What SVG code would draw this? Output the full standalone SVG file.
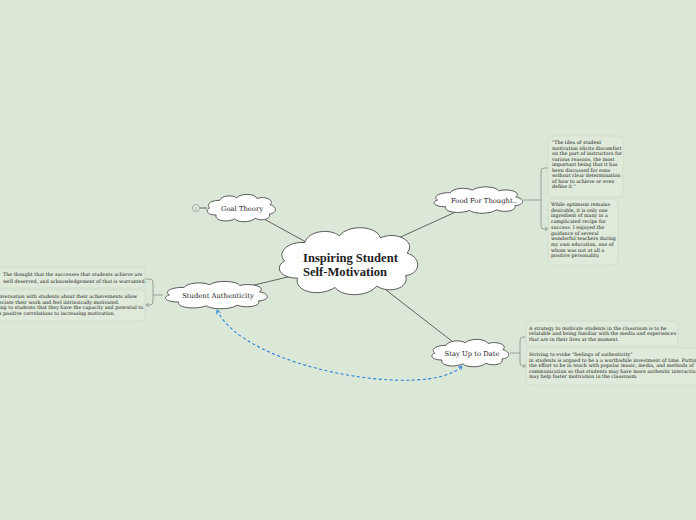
<svg xmlns="http://www.w3.org/2000/svg" width="696" height="520" viewBox="0 0 696 520">
<style>
.bg{fill:#dbe7d7}
.cloud{fill:#ffffff;stroke:#5a5a5a;stroke-width:1}
.conn{fill:none;stroke:#555;stroke-width:0.9}
.br{fill:none;stroke:#8a8f88;stroke-width:0.8}
.note{fill:#dfeada;stroke:#cfdcca;stroke-width:0.8}
.nt{font-family:"DejaVu Serif",serif;font-size:4.8px;fill:#222}
.lbl{font-family:"DejaVu Serif",serif;font-size:6.8px;fill:#222}
.main{font-family:"Liberation Serif",serif;font-size:12.6px;font-weight:bold;fill:#222}
.dash{fill:none;stroke:#2a7fe0;stroke-width:1.1;stroke-dasharray:3,2.5}
</style>
<defs>
<path id="cl" vector-effect="non-scaling-stroke" d="M -88,0 C -100,-14 -82,-30 -60,-28 C -55,-46 -25,-50 -12,-38 C 0,-56 40,-54 45,-35 C 66,-46 96,-30 82,-12 C 104,-4 100,20 80,22 C 86,42 56,50 40,38 C 26,56 -10,54 -18,40 C -40,56 -76,46 -70,26 C -96,26 -102,8 -88,0 Z"/>
<marker id="ab" viewBox="0 0 6 6" refX="5" refY="3" markerWidth="5" markerHeight="5" orient="auto-start-reverse" markerUnits="userSpaceOnUse"><path d="M0.5,0.5 L5,3 L0.5,5.5" fill="none" stroke="#2a7fe0" stroke-width="1"/></marker>
<marker id="ag" viewBox="0 0 6 6" refX="5" refY="3" markerWidth="4" markerHeight="4" orient="auto" markerUnits="userSpaceOnUse"><path d="M0.5,0.5 L5,3 L0.5,5.5" fill="none" stroke="#8a8f88" stroke-width="1"/></marker>
</defs>
<rect class="bg" x="0" y="0" width="696" height="520"/>

<g id="connectors">
<line class="conn" x1="264" y1="219" x2="306" y2="242"/>
<line class="conn" x1="394" y1="240" x2="460" y2="210"/>
<line class="conn" x1="250" y1="286" x2="292" y2="276"/>
<line class="conn" x1="386" y1="290" x2="453" y2="342"/>
<line class="conn" x1="199.5" y1="208" x2="207" y2="208"/>
<path class="dash" d="M 217,310 C 245,370 430,400 462,366" marker-start="url(#ab)" marker-end="url(#ab)"/>
<path class="br" d="M 523,200 L 541,200"/>
<path class="br" d="M 548,168 L 544,168 Q 541,168 541,171 L 541,226 Q 541,229 544,229 L 548,229" marker-start="url(#ag)" marker-end="url(#ag)"/>
<path class="br" d="M 163,295 L 153,295"/>
<path class="br" d="M 146,279 L 150,279 Q 153,279 153,282 L 153,302 Q 153,305 150,305 L 146,305" marker-start="url(#ag)" marker-end="url(#ag)"/>
<path class="br" d="M 510,353 L 520,353"/>
<path class="br" d="M 526,337 L 523,337 Q 520,337 520,340 L 520,363 Q 520,366 523,366 L 526,366" marker-start="url(#ag)" marker-end="url(#ag)"/>
</g>

<g id="central">
<use href="#cl" class="cloud" transform="translate(348,261) scale(0.72,0.66)"/>
<text class="main" x="303" y="262">Inspiring Student</text>
<text class="main" x="303" y="276">Self-Motivation</text>
</g>

<g id="goal-theory">
<circle cx="196" cy="208" r="3.5" fill="#e4ede1" stroke="#8a8f88" stroke-width="0.7"/>
<text x="196" y="209.5" font-family="Liberation Sans, sans-serif" font-size="3.5" fill="#888" text-anchor="middle">3</text>
<use href="#cl" class="cloud" transform="translate(241,208) scale(0.355,0.27)"/>
<text class="lbl" x="242" y="210.5" text-anchor="middle">Goal Theory</text>
</g>

<g id="food-for-thought">
<use href="#cl" class="cloud" transform="translate(478,200) scale(0.46,0.26)"/>
<text class="lbl" x="484" y="202.5" text-anchor="middle">Food For Thought..</text>
<rect class="note" x="548" y="136" width="75" height="61" rx="4"/>
<text class="nt" x="552" y="144">"The idea of student</text>
<text class="nt" x="552" y="149.5">motivation elicits discomfort</text>
<text class="nt" x="552" y="155">on the part of instructors for</text>
<text class="nt" x="552" y="160.5">various reasons, the most</text>
<text class="nt" x="552" y="166">important being that it has</text>
<text class="nt" x="552" y="171.5">been discussed for eons</text>
<text class="nt" x="552" y="177">without clear determination</text>
<text class="nt" x="552" y="182.5">of how to achieve or even</text>
<text class="nt" x="552" y="188">define it."</text>
<rect class="note" x="548" y="199" width="70" height="66" rx="4"/>
<text class="nt" x="551" y="206">While optimism remains</text>
<text class="nt" x="551" y="211.7">desirable, it is only one</text>
<text class="nt" x="551" y="217.4">ingredient of many in a</text>
<text class="nt" x="551" y="223.1">complicated recipe for</text>
<text class="nt" x="551" y="228.8">success. I enjoyed the</text>
<text class="nt" x="551" y="234.5">guidance of several</text>
<text class="nt" x="551" y="240.2">wonderful teachers during</text>
<text class="nt" x="551" y="245.9">my own education, one of</text>
<text class="nt" x="551" y="251.6">whom was not at all a</text>
<text class="nt" x="551" y="257.3">positive personality.</text>
</g>

<g id="student-authenticity">
<use href="#cl" class="cloud" transform="translate(216,295) scale(0.53,0.27)"/>
<text class="lbl" x="218" y="297.5" text-anchor="middle">Student Authenticity</text>
<rect class="note" x="-6" y="267" width="151" height="21" rx="4"/>
<text class="nt" x="3" y="276">The thought that the successes that students achieve are</text>
<text class="nt" x="3" y="283">well deserved, and acknowledgement of that is warranted.</text>
<rect class="note" x="-6" y="290" width="151" height="31" rx="4"/>
<text class="nt" x="-1" y="298">nversation with students about their achievements allow</text>
<text class="nt" x="-1" y="303.5">eciate their work and feel intrinsically motivated.</text>
<text class="nt" x="-1" y="309">ing to students that they have the capacity and potential to</text>
<text class="nt" x="-1" y="314.5">s positive correlations to increasing motivation.</text>
</g>

<g id="stay-up-to-date">
<use href="#cl" class="cloud" transform="translate(470,353) scale(0.40,0.27)"/>
<text class="lbl" x="472" y="355.5" text-anchor="middle">Stay Up to Date</text>
<rect class="note" x="526" y="321" width="152" height="25" rx="4"/>
<text class="nt" x="529" y="329.5">A strategy to motivate students in the classroom is to be</text>
<text class="nt" x="529" y="335">relatable and being familiar with the media and experiences</text>
<text class="nt" x="529" y="340.5">that are in their lives at the moment.</text>
<rect class="note" x="526" y="348" width="176" height="37" rx="4"/>
<text class="nt" x="529" y="356">Striving to evoke "feelings of authenticity"</text>
<text class="nt" x="529" y="361.5">in students is argued to be a a worthwhile investment of time. Putting</text>
<text class="nt" x="529" y="367">the effort to be in touch with popular music, media, and methods of</text>
<text class="nt" x="529" y="372.5">communication so that students may have more authentic interactions</text>
<text class="nt" x="529" y="378">may help foster motivation in the classroom.</text>
</g>
</svg>
